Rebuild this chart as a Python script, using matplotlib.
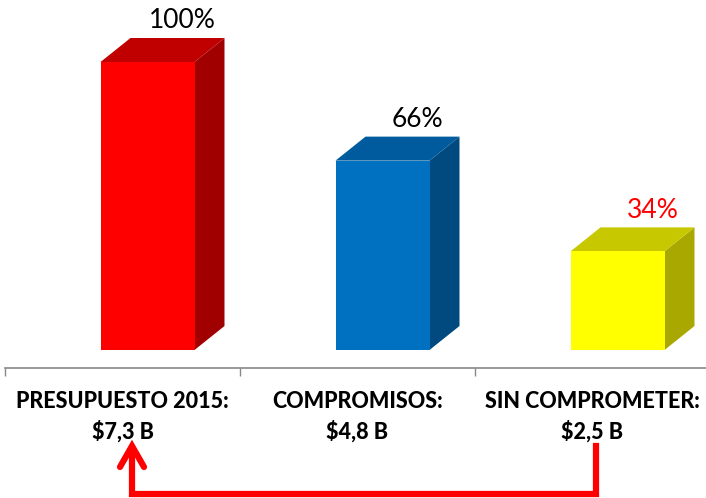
import numpy as np
import matplotlib.pyplot as plt
from matplotlib.patches import Polygon
from matplotlib.lines import Line2D

# Dades
categories = ['PRESUPUESTO 2015:', 'COMPROMISOS:', 'SIN COMPROMETER:']
amounts = ['$7,3 B', '$4,8 B', '$2,5 B']
values = [7.3, 4.8, 2.5]
pct_labels = ['100%', '66%', '34%']
pct_colors = ['black', 'black', 'red']

# Colors de cada barra: cara frontal, superior, lateral
front_colors = ['#FF0000', '#0070C0', '#FFFF00']
top_colors = ['#C00000', '#005A9E', '#C8C800']
side_colors = ['#A00000', '#004A80', '#A8A800']

W, H = 706, 498
fig = plt.figure(figsize=(W / 100, H / 100), dpi=100)

# escala: 235 px per categoria, 39.45 px per unitat
px_x = 235.0
px_y = 288.0 / 7.3
ax = fig.add_axes([5 / W, (H - 368) / H, 701 / W, 368 / H])
ax.set_xlim(-0.5, -0.5 + 701 / px_x)
ax.set_ylim(-18 / px_y, 350 / px_y)

bar_left = -22 / px_x      # respecte al centre de la categoria
bar_w = 94 / px_x
dx = 30 / px_x              # profunditat
dy = 24 / px_y

for i, v in enumerate(values):
    x0 = i + bar_left
    x1 = x0 + bar_w
    # cara lateral
    ax.add_patch(Polygon([(x1, 0), (x1 + dx, dy), (x1 + dx, v + dy), (x1, v)],
                         closed=True, facecolor=side_colors[i], edgecolor='none'))
    # cara superior
    ax.add_patch(Polygon([(x0, v), (x1, v), (x1 + dx, v + dy), (x0 + dx, v + dy)],
                         closed=True, facecolor=top_colors[i], edgecolor='none'))
    # cara frontal
    ax.add_patch(Polygon([(x0, 0), (x1, 0), (x1, v), (x0, v)],
                         closed=True, facecolor=front_colors[i], edgecolor='none'))
    # percentatge
    ax.annotate(pct_labels[i], xy=(x0 + bar_w / 2 + 35 / px_x, v + dy),
                xytext=(0, 7), textcoords='offset points',
                ha='center', va='baseline', fontsize=19, family='Lato',
                color=pct_colors[i])
    # etiquetes de categoria
    ax.text(i, -33 / 368, categories[i], transform=ax.get_xaxis_transform(),
            ha='center', va='center', fontsize=15.5, fontweight='black', family='Lato')
    ax.text(i, -63 / 368, amounts[i].replace('$', r'\$'), transform=ax.get_xaxis_transform(),
            ha='center', va='center', fontsize=15.5, fontweight='black', family='Lato')

for s in ['top', 'right', 'left']:
    ax.spines[s].set_visible(False)
ax.spines['bottom'].set_color('#888888')
ax.spines['bottom'].set_linewidth(1.2)
ax.set_yticks([])
ax.set_xticks([-0.5, 0.5, 1.5])
ax.set_xticklabels([])
ax.tick_params(axis='x', direction='out', length=6, width=1, color='#888888')

# Fletxa vermella
def fp(x, y):
    return x / W, 1 - y / H

path = [fp(596, 446), fp(596, 494), fp(132, 494), fp(132, 450)]
xs, ys = zip(*path)
fig.add_artist(Line2D(xs, ys, color='red', linewidth=4.5, solid_joinstyle='miter'))
head = [fp(120, 467), fp(132, 446), fp(144, 467)]
hx, hy = zip(*head)
fig.add_artist(Line2D(hx, hy, color='red', linewidth=4.5, solid_capstyle='round',
                      solid_joinstyle='miter'))

fig.savefig('out.png', dpi=100)
